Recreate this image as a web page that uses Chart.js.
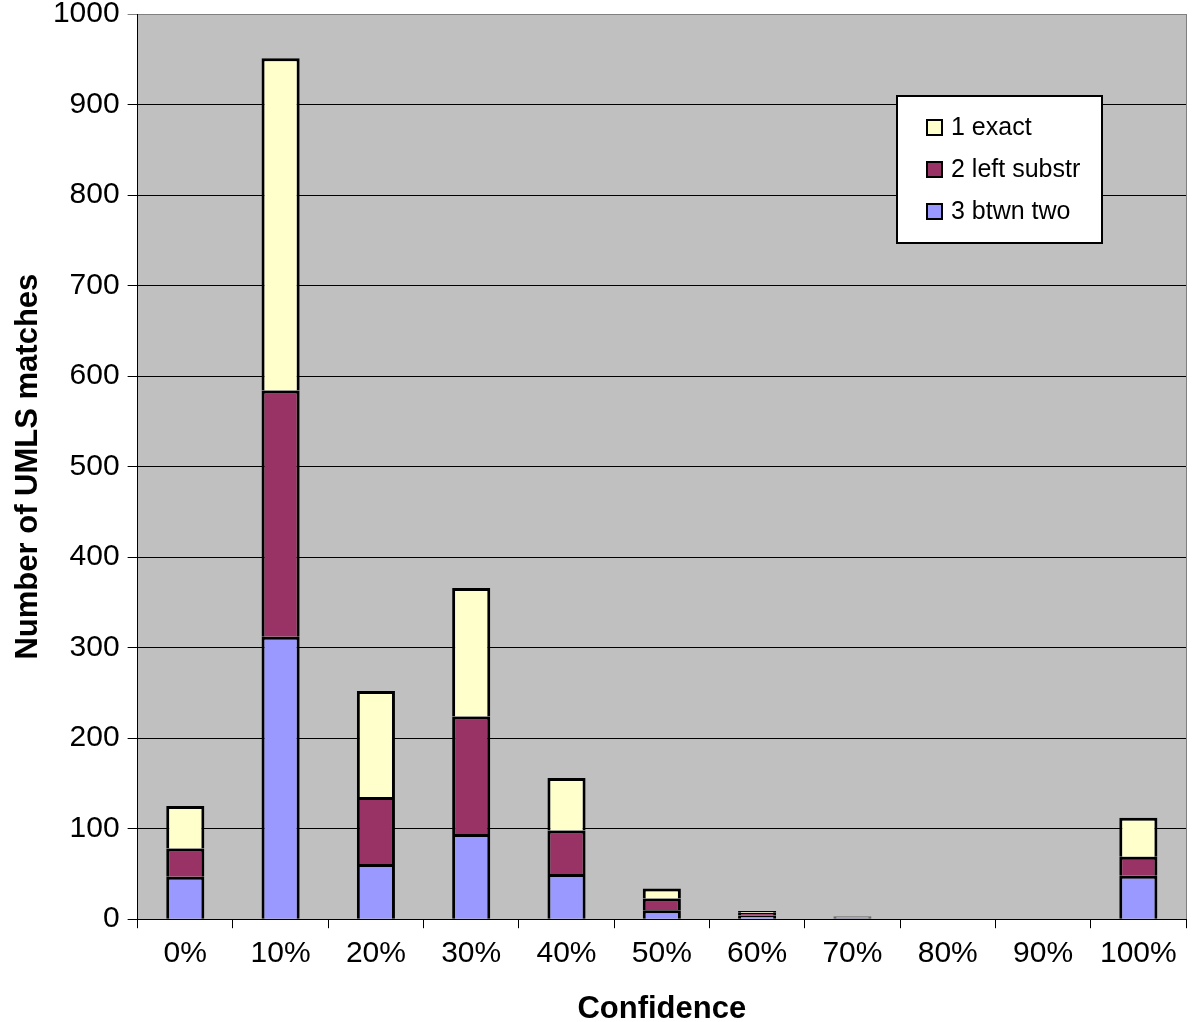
<!DOCTYPE html>
<html>
<head>
<meta charset="utf-8">
<script src="https://cdn.jsdelivr.net/npm/chart.js@4/dist/chart.umd.min.js"></script>
<style>
  html, body { margin: 0; padding: 0; background: #fff; }
  #wrap { width: 1200px; height: 1022px; position: relative; }
</style>
</head>
<body>
<div id="wrap"><canvas id="chart" width="1200" height="1022"></canvas></div>
<script>
const categories = ["0%", "10%", "20%", "30%", "40%", "50%", "60%", "70%", "80%", "90%", "100%"];
const btwnTwo = [47, 312, 61, 94, 50, 10, 4, 1, 0, 0, 48];
const leftSubstr = [31, 272, 74, 130, 48, 13, 3, 1, 0, 0, 21];
const exact = [47, 367, 117, 142, 58, 11, 2, 1, 0, 0, 43];
const yTicks = [0, 100, 200, 300, 400, 500, 600, 700, 800, 900, 1000];

const FONT = "'Liberation Sans', Arial, sans-serif";

// grey plot background
const plotBackground = {
  id: "plotBackground",
  beforeDraw(chart) {
    const { ctx, chartArea: a } = chart;
    ctx.save();
    ctx.fillStyle = "#c0c0c0";
    ctx.fillRect(a.left, a.top, a.right - a.left, a.bottom - a.top);
    ctx.strokeStyle = "#808080";
    ctx.lineWidth = 1;
    ctx.beginPath();
    ctx.moveTo(a.right + 0.5, a.top);
    ctx.lineTo(a.right + 0.5, a.bottom);
    ctx.stroke();
    ctx.restore();
  }
};

// legend box drawn inside the plot, top right
const boxLegend = {
  id: "boxLegend",
  afterDraw(chart) {
    const { ctx } = chart;
    const x = 897, y = 96, w = 205, h = 147;
    ctx.save();
    ctx.fillStyle = "#fff";
    ctx.fillRect(x, y, w, h);
    ctx.strokeStyle = "#000";
    ctx.lineWidth = 2;
    ctx.strokeRect(x, y, w, h);
    ctx.font = "25px " + FONT;
    ctx.textBaseline = "middle";
    const items = chart.data.datasets.slice().reverse();
    items.forEach((ds, i) => {
      const cy = y + 31 + i * 42;
      ctx.fillStyle = ds.backgroundColor;
      ctx.fillRect(x + 30, cy - 7, 15, 15);
      ctx.lineWidth = 2;
      ctx.strokeRect(x + 30, cy - 7, 15, 15);
      ctx.fillStyle = "#000";
      ctx.fillText(ds.label, x + 54, cy + 1);
    });
    ctx.restore();
  }
};

new Chart(document.getElementById("chart"), {
  type: "bar",
  data: {
    labels: categories,
    datasets: [
      { label: "3 btwn two", data: btwnTwo, backgroundColor: "#9999ff" },
      { label: "2 left substr", data: leftSubstr, backgroundColor: "#993366" },
      { label: "1 exact", data: exact, backgroundColor: "#ffffcc" }
    ].map((d) => ({ ...d, borderColor: "#000", borderWidth: 3, borderSkipped: "start", barPercentage: 0.4, categoryPercentage: 1 }))
  },
  options: {
    responsive: false,
    animation: false,
    layout: { padding: { top: 8, right: 14, bottom: 0, left: 15 } },
    plugins: { legend: { display: false }, tooltip: { enabled: false } },
    scales: {
      x: {
        stacked: true,
        grid: { offset: true, drawOnChartArea: false, drawTicks: true, tickLength: 9, color: "#000", lineWidth: 1 },
        border: { color: "#000", width: 1 },
        ticks: { color: "#000", font: { family: FONT, size: 30, lineHeight: 1.2 }, padding: 8 },
        title: { display: true, text: "Confidence", color: "#000", font: { family: FONT, size: 31, weight: "bold", lineHeight: 0.8 }, padding: { top: 17, bottom: 0 } }
      },
      y: {
        stacked: true,
        min: 0,
        max: 1000,
        afterBuildTicks(axis) { axis.ticks = yTicks.map((v) => ({ value: v })); },
        grid: { color: (c) => (c.tick && c.tick.value === 1000 ? "#808080" : "#000"), lineWidth: 1, tickLength: 10 },
        border: { color: "#000", width: 1 },
        ticks: { color: "#000", font: { family: FONT, size: 30, lineHeight: 0.4 }, padding: 8, callback: (v) => String(v) },
        title: { display: true, text: "Number of UMLS matches", color: "#000", font: { family: FONT, size: 31, weight: "bold", lineHeight: 0.9 }, padding: { top: 0, bottom: 2 } }
      }
    }
  },
  plugins: [plotBackground, boxLegend]
});
</script>
</body>
</html>
